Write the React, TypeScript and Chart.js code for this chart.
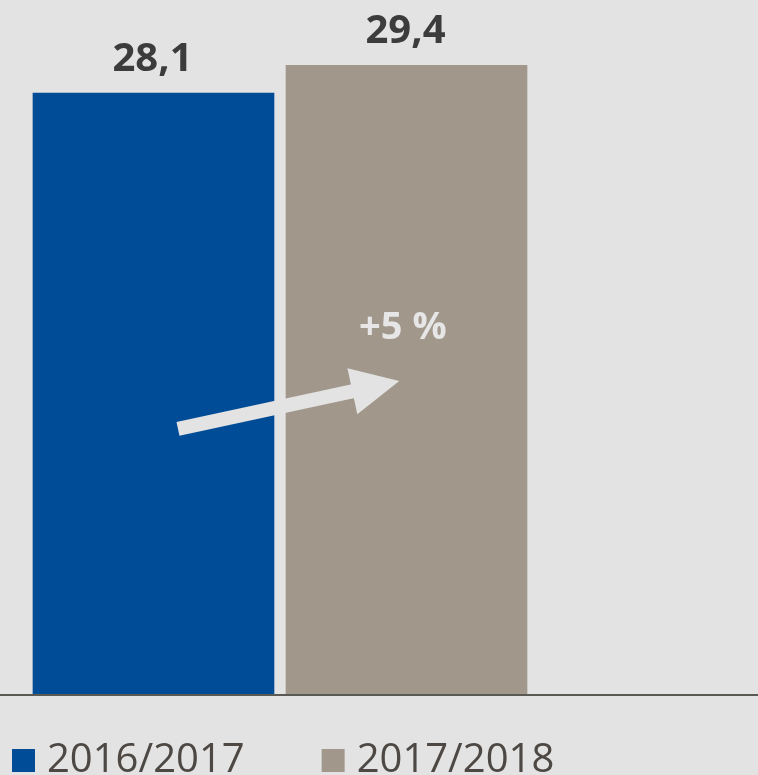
import React, { useEffect, useRef } from "react";
import { Chart, registerables } from "chart.js";

Chart.register(...registerables);

const categories = ["2016/2017", "2017/2018"];
const values = [28.1, 29.4];
const colors = ["#004c97", "#a1978b"];
const changeLabel = "+5 %";

const BG = "#e3e3e3";

export default function App() {
  const ref = useRef<HTMLCanvasElement | null>(null);

  useEffect(() => {
    document.body.style.margin = "0";
    document.body.style.background = BG;
    const canvas = ref.current;
    if (!canvas) return;

    const bgPlugin = {
      id: "bg",
      beforeDraw(chart: any) {
        const { ctx, width, height } = chart;
        ctx.save();
        ctx.fillStyle = BG;
        ctx.fillRect(0, 0, width, height);
        ctx.restore();
      },
    };

    const overlayPlugin = {
      id: "overlay",
      afterDatasetsDraw(chart: any) {
        const ctx = chart.ctx;
        const xs = chart.scales.x;
        const ys = chart.scales.y;
        const y0 = ys.getPixelForValue(0);
        ctx.save();
        // baseline
        ctx.strokeStyle = "#5a5954";
        ctx.lineWidth = 2;
        ctx.beginPath();
        ctx.moveTo(0, y0 + 1);
        ctx.lineTo(chart.width, y0 + 1);
        ctx.stroke();

        // value labels
        ctx.fillStyle = "#3c3c3c";
        ctx.font = 'bold 40px "Open Sans"';
        ctx.textAlign = "center";
        ctx.textBaseline = "alphabetic";
        chart.data.datasets.forEach((ds: any, i: number) => {
          const meta = chart.getDatasetMeta(i);
          meta.data.forEach((el: any, j: number) => {
            const v = ds.data[j].y;
            ctx.fillText(String(v).replace(".", ","), el.x - 1, el.y - 22);
          });
        });

        // arrow
        const sx = xs.getPixelForValue(1.0968);
        const sy = ys.getPixelForValue(12.4);
        const tx = xs.getPixelForValue(1.9715);
        const ty = ys.getPixelForValue(14.63);
        const ang = Math.atan2(ty - sy, tx - sx);
        const headLen = 48;
        const headHalf = 23.5;
        const shaftHalf = 7;
        const bx = tx - headLen * Math.cos(ang);
        const by = ty - headLen * Math.sin(ang);
        const nx = -Math.sin(ang);
        const ny = Math.cos(ang);
        ctx.fillStyle = BG;
        ctx.beginPath();
        ctx.moveTo(sx + nx * shaftHalf, sy + ny * shaftHalf);
        ctx.lineTo(bx + 2 * Math.cos(ang) + nx * shaftHalf, by + 2 * Math.sin(ang) + ny * shaftHalf);
        ctx.lineTo(bx + 2 * Math.cos(ang) - nx * shaftHalf, by + 2 * Math.sin(ang) - ny * shaftHalf);
        ctx.lineTo(sx - nx * shaftHalf, sy - ny * shaftHalf);
        ctx.closePath();
        ctx.fill();
        ctx.beginPath();
        ctx.moveTo(tx, ty);
        ctx.lineTo(bx + nx * headHalf, by + ny * headHalf);
        ctx.lineTo(bx - nx * headHalf, by - ny * headHalf);
        ctx.closePath();
        ctx.fill();

        // change label
        ctx.fillStyle = "#e6e6e6";
        ctx.font = 'bold 38px "Open Sans"';
        ctx.textAlign = "center";
        ctx.fillText(changeLabel, xs.getPixelForValue(1.9855), ys.getPixelForValue(16.6));

        // legend
        ctx.font = '40px "Open Sans"';
        ctx.textAlign = "left";
        let x = 12;
        const boxTop = 749;
        const baseY = 772;
        chart.data.datasets.forEach((ds: any) => {
          ctx.fillStyle = ds.backgroundColor;
          ctx.fillRect(x, boxTop, 23, 23);
          ctx.fillStyle = "#4d4843";
          ctx.fillText(ds.label, x + 35, baseY);
          x = x + 35 + ctx.measureText(ds.label).width + 77;
        });
        ctx.restore();
      },
    };

    const chart = new Chart(canvas, {
      type: "bar",
      data: {
        datasets: categories.map((c, i) => ({
          label: c,
          data: [{ x: i + 1, y: values[i] }],
          backgroundColor: colors[i],
          borderWidth: 0,
          barThickness: 241,
          grouped: false,
        })),
      },
      options: {
        animation: false,
        responsive: true,
        maintainAspectRatio: false,
        devicePixelRatio: 1,
        layout: { padding: { top: 9.6, bottom: 81, left: 0, right: 0 } },
        plugins: {
          legend: { display: false },
          tooltip: { enabled: false },
        },
        scales: {
          x: {
            type: "linear",
            min: 0.3933,
            max: 3.3893,
            offset: false,
            bounds: "ticks",
            display: false,
          },
          y: {
            min: 0,
            max: 32,
            display: false,
          },
        },
      } as any,
      plugins: [bgPlugin, overlayPlugin],
    });
    return () => chart.destroy();
  }, []);

  return (
    <div style={{ width: 758, height: 775, position: "relative" }}>
      <canvas ref={ref} />
    </div>
  );
}
